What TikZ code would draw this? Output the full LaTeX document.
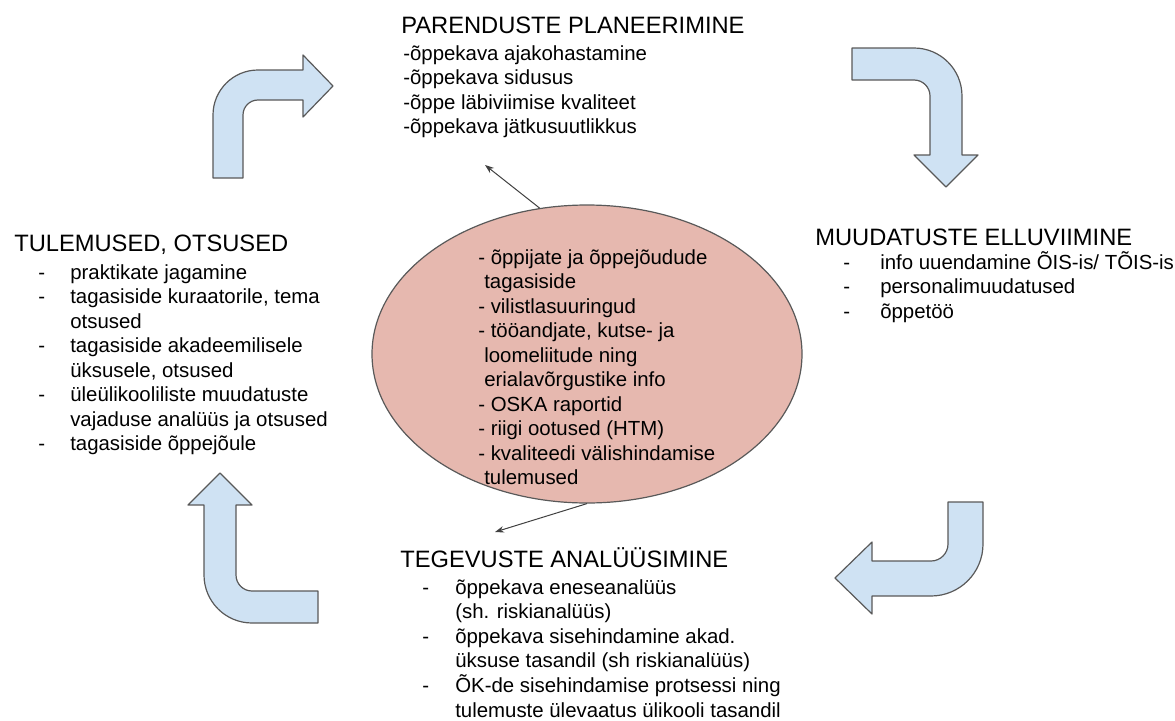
\documentclass[tikz,border=0pt]{standalone}
\usepackage{fontspec}
\setmainfont{Liberation Sans}
\usepackage{tikz}
\usetikzlibrary{arrows.meta,shapes.geometric}
\definecolor{arrfill}{HTML}{CFE2F3}
\definecolor{srcfill}{HTML}{E6B8AF}
\definecolor{edgegrey}{HTML}{595959}
\definecolor{conline}{HTML}{404040}
\newcommand\hdfont{\fontsize{23.7}{28}\selectfont}
\newcommand\lsfont{\fontsize{20.4}{24.5}\selectfont}

\begin{document}
\begin{tikzpicture}[x=1pt,y=-1pt,>={Stealth[length=9pt,width=6.5pt]},semithick]

  \tikzstyle{heading}=[anchor=base west,inner sep=0pt,font=\hdfont]
  \tikzstyle{itemlist}=[anchor=base west,inner sep=0pt,font=\lsfont]
  \tikzstyle{bentarrow}=[draw=edgegrey,fill=arrfill,line width=1.2pt,line join=round]
  \tikzstyle{srcell}=[ellipse,draw=edgegrey,fill=srcfill,line width=1.2pt,
                      minimum width=430pt,minimum height=298pt,inner sep=0pt]
  \tikzstyle{feed}=[->,draw=conline,line width=1pt]

  \useasboundingbox (0,0) rectangle (1175,720);

  % the four turning arrows
  \draw[bentarrow] (213,178) -- (213,115) arc[start angle=180,end angle=90,radius=45pt]
    -- (303,70) -- (303,55) -- (333,86) -- (303,117) -- (303,100) -- (258,100)
    arc[start angle=90,end angle=180,radius=15pt] -- (243,178) -- cycle;
  \draw[bentarrow] (852,48) -- (914,48) arc[start angle=90,end angle=0,radius=48pt]
    -- (962,155) -- (978,155) -- (946,187) -- (914,155) -- (930,155) -- (930,96)
    arc[start angle=0,end angle=90,radius=16pt] -- (852,80) -- cycle;
  \draw[bentarrow] (948,502) -- (983,502) -- (983,544) arc[start angle=0,end angle=-90,radius=52pt]
    -- (872,596) -- (872,614) -- (835,578) -- (872,542) -- (872,561) -- (931,561)
    arc[start angle=-90,end angle=0,radius=17pt] -- cycle;
  \draw[bentarrow] (318,623) -- (252,623) arc[start angle=-90,end angle=-180,radius=48pt]
    -- (204,505) -- (188,505) -- (220,473) -- (252,505) -- (236,505) -- (236,575)
    arc[start angle=180,end angle=270,radius=16pt] -- (318,591) -- cycle;

  % inputs in the middle
  \node[srcell] (src) at (587,354) {};
  \node[itemlist] (srcl) at (478,264) {\begin{tabular}[t]{@{}l@{}}
    - õppijate ja õppejõudude\\
    \hspace*{6pt}tagasiside\\
    - vilistlasuuringud\\
    - tööandjate, kutse- ja\\
    \hspace*{6pt}loomeliitude ning\\
    \hspace*{6pt}erialavõrgustike info\\
    - OSKA raportid\\
    - riigi ootused (HTM)\\
    - kvaliteedi välishindamise\\
    \hspace*{6pt}tulemused
  \end{tabular}};

  % planning
  \node[heading] (plan) at (401,33.6) {PARENDUSTE PLANEERIMINE};
  \node[itemlist] (planl) at (403,60) {\begin{tabular}[t]{@{}l@{}}
    -õppekava ajakohastamine\\
    -õppekava sidusus\\
    -õppe läbiviimise kvaliteet\\
    -õppekava jätkusuutlikkus
  \end{tabular}};

  % changes
  \node[heading] (muud) at (815,245.6) {MUUDATUSTE ELLUVIIMINE};
  \node[itemlist] (muudl) at (843,269) {\begin{tabular}[t]{@{}p{37pt}@{}l@{}}
    - & info uuendamine ÕIS-is/ TÕIS-is\\
    - & personalimuudatused\\
    - & õppetöö
  \end{tabular}};

  % analysis
  \node[heading] (teg) at (400,567.6) {TEGEVUSTE ANALÜÜSIMINE};
  \node[itemlist] (tegl) at (422,594) {\begin{tabular}[t]{@{}p{33pt}@{}l@{}}
    - & õppekava eneseanalüüs\\
      & (sh. riskianalüüs)\\
    - & õppekava sisehindamine akad.\\
      & üksuse tasandil (sh riskianalüüs)\\
    - & ÕK-de sisehindamise protsessi ning\\
      & tulemuste ülevaatus ülikooli tasandil
  \end{tabular}};

  % results
  \node[heading] (tul) at (14,251.6) {TULEMUSED, OTSUSED};
  \node[itemlist] (tull) at (38,279) {\begin{tabular}[t]{@{}p{32pt}@{}l@{}}
    - & praktikate jagamine\\
    - & tagasiside kuraatorile, tema\\
      & otsused\\
    - & tagasiside akadeemilisele\\
      & üksusele, otsused\\
    - & üleülikooliliste muudatuste\\
      & vajaduse analüüs ja otsused\\
    - & tagasiside õppejõule
  \end{tabular}};

  \coordinate (planend) at (485,165);
  \coordinate (tegend) at (495,532);
  \path
  (src.108)   edge[feed] (planend)
  (src.south) edge[feed] (tegend)
  ;
\end{tikzpicture}
\end{document}
